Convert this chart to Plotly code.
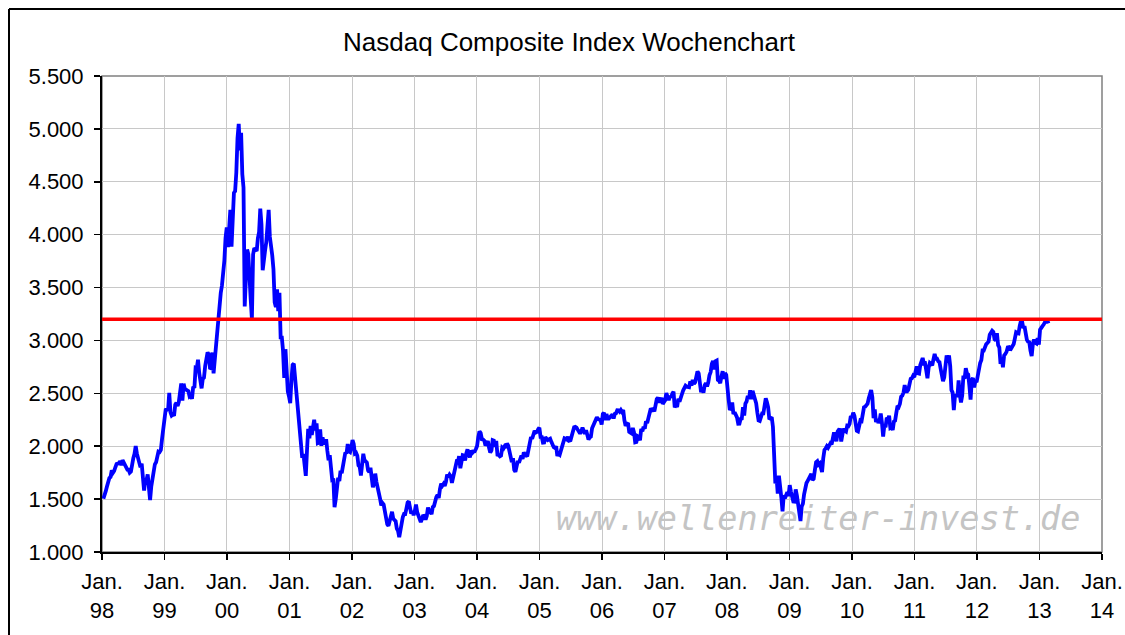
import pandas as pd
import plotly.graph_objects as go

# Weekly closes of the Nasdaq Composite, one list per calendar year
v1998 = [1503, 1560, 1575, 1619, 1680, 1700, 1710, 1771, 1749, 1766, 1801, 1832, 1835, 1840, 1859, 1820,
         1869, 1844, 1838, 1810, 1779, 1780, 1750, 1761, 1860, 1886, 1928, 2001, 1930, 1873, 1838, 1800,
         1835, 1639, 1580, 1690, 1680, 1733, 1614, 1492, 1620, 1690, 1771, 1829, 1848, 1911, 1950, 1946,
         1965, 2070, 2160, 2193]
v1999 = [2344, 2348, 2338, 2505, 2320, 2290, 2300, 2288, 2392, 2410, 2380, 2420, 2493, 2593, 2430, 2590,
         2542, 2535, 2528, 2520, 2470, 2478, 2447, 2563, 2552, 2741, 2736, 2818, 2694, 2638, 2547, 2637,
         2648, 2758, 2843, 2887, 2869, 2740, 2736, 2886, 2689, 2816, 2966, 3102, 3221, 3369, 3448, 3520,
         3621, 3753, 3970, 4069]
v2000 = [3882, 4064, 4235, 3887, 4244, 4395, 4411, 4590, 4914, 5048, 4798, 4963, 4573, 4446, 3321, 3643,
         3860, 3817, 3529, 3390, 3205, 3813, 3874, 3860, 3845, 3966, 4024, 4246, 4095, 3663, 3787, 3849,
         3930, 4042, 4234, 3979, 3835, 3803, 3673, 3362, 3316, 3483, 3278, 3451, 3028, 3027, 2904, 2645,
         2917, 2653, 2517, 2470]
v2001 = [2407, 2626, 2770, 2781, 2660, 2470, 2425, 2262, 2117, 2052, 1891, 1928, 1840, 1720, 1961, 2163,
         2075, 2191, 2107, 2199, 2251, 2150, 2215, 2029, 2034, 2160, 2004, 2084, 2029, 2029, 2066, 1956,
         1867, 1916, 1805, 1687, 1695, 1423, 1499, 1605, 1703, 1671, 1768, 1746, 1828, 1898, 1941, 1930,
         2021, 1953, 1945, 1987]
v2002 = [2059, 2022, 1930, 1937, 1911, 1818, 1805, 1724, 1802, 1929, 1868, 1851, 1845, 1770, 1756, 1796,
         1663, 1613, 1652, 1741, 1661, 1616, 1535, 1504, 1440, 1463, 1448, 1374, 1320, 1262, 1247, 1306,
         1361, 1380, 1315, 1295, 1291, 1221, 1199, 1140, 1210, 1287, 1331, 1360, 1359, 1411, 1468, 1478,
         1422, 1362, 1387, 1348]
v2003 = [1387, 1448, 1376, 1342, 1321, 1283, 1310, 1349, 1337, 1305, 1340, 1421, 1369, 1383, 1358, 1425,
         1434, 1502, 1520, 1539, 1510, 1595, 1646, 1627, 1644, 1625, 1663, 1733, 1708, 1731, 1715, 1653,
         1702, 1765, 1810, 1858, 1855, 1905, 1792, 1880, 1915, 1912, 1865, 1932, 1970, 1930, 1893, 1960,
         1937, 1949, 1951, 1974, 2003]
v2004 = [2087, 2140, 2124, 2066, 2064, 2053, 2007, 2029, 2048, 1985, 1940, 1960, 2057, 2053, 1995, 2049,
         1920, 1917, 1905, 1912, 1987, 1978, 1999, 1987, 2025, 2006, 1946, 1883, 1849, 1887, 1777, 1757,
         1838, 1862, 1844, 1894, 1910, 1879, 1942, 1919, 1911, 1915, 1975, 2038, 2085, 2070, 2101, 2147,
         2129, 2135, 2160, 2175]
v2005 = [2088, 2087, 2034, 2035, 2086, 2076, 2058, 2065, 2071, 2041, 2008, 1991, 1984, 1999, 1908, 1932,
         1921, 1967, 1976, 2047, 2075, 2071, 2063, 2090, 2053, 2057, 2112, 2156, 2180, 2184, 2177, 2157,
         2135, 2120, 2141, 2175, 2146, 2116, 2152, 2090, 2064, 2082, 2090, 2170, 2200, 2228, 2263, 2273,
         2256, 2252, 2249, 2205]
v2006 = [2305, 2317, 2247, 2304, 2262, 2261, 2282, 2287, 2302, 2262, 2307, 2312, 2340, 2339, 2326, 2342,
         2323, 2343, 2243, 2194, 2210, 2219, 2135, 2130, 2121, 2172, 2130, 2037, 2040, 2094, 2086, 2057,
         2163, 2141, 2184, 2165, 2235, 2218, 2258, 2299, 2357, 2342, 2350, 2330, 2390, 2445, 2460, 2413,
         2437, 2457, 2401, 2415]
v2007 = [2434, 2502, 2451, 2436, 2475, 2460, 2497, 2515, 2368, 2387, 2372, 2448, 2421, 2471, 2491, 2526,
         2557, 2572, 2562, 2558, 2557, 2613, 2573, 2626, 2589, 2603, 2666, 2707, 2688, 2562, 2511, 2544,
         2505, 2576, 2596, 2566, 2602, 2671, 2701, 2780, 2806, 2726, 2804, 2810, 2627, 2619, 2596, 2661,
         2709, 2636, 2691, 2674]
v2008 = [2504, 2440, 2341, 2361, 2413, 2304, 2322, 2303, 2272, 2212, 2213, 2258, 2261, 2370, 2290, 2403,
         2423, 2477, 2446, 2528, 2444, 2523, 2475, 2454, 2406, 2316, 2245, 2240, 2283, 2310, 2310, 2414,
         2452, 2415, 2368, 2255, 2261, 2273, 2183, 1947, 1649, 1711, 1552, 1721, 1647, 1516, 1384, 1536,
         1509, 1540, 1564, 1530]
v2009 = [1632, 1571, 1530, 1477, 1476, 1591, 1534, 1441, 1378, 1293, 1431, 1457, 1545, 1621, 1652, 1673,
         1694, 1719, 1739, 1680, 1692, 1774, 1849, 1858, 1827, 1838, 1797, 1756, 1886, 1965, 1979, 2000,
         1985, 2020, 2028, 2018, 2080, 2132, 2090, 2048, 2139, 2156, 2154, 2045, 2112, 2167, 2146, 2138,
         2194, 2190, 2212, 2285, 2269]
v2010 = [2317, 2288, 2205, 2147, 2141, 2183, 2243, 2238, 2326, 2368, 2374, 2395, 2402, 2454, 2481, 2530,
         2461, 2265, 2347, 2229, 2257, 2219, 2243, 2309, 2223, 2091, 2196, 2179, 2269, 2255, 2288, 2173,
         2179, 2153, 2234, 2242, 2315, 2381, 2371, 2401, 2468, 2479, 2507, 2578, 2518, 2518, 2535, 2592,
         2637, 2642, 2665, 2653]
v2011 = [2703, 2755, 2689, 2686, 2769, 2809, 2834, 2781, 2784, 2716, 2643, 2743, 2789, 2780, 2764, 2820,
         2873, 2827, 2828, 2803, 2796, 2732, 2644, 2616, 2652, 2816, 2859, 2789, 2859, 2756, 2532, 2507,
         2341, 2479, 2480, 2467, 2622, 2483, 2415, 2479, 2667, 2637, 2737, 2686, 2678, 2572, 2441, 2626,
         2646, 2555, 2618, 2605]
v2012 = [2674, 2711, 2787, 2816, 2905, 2904, 2951, 2963, 2976, 2988, 3055, 3068, 3091, 3080, 3011, 3000,
         3069, 2956, 2933, 2778, 2837, 2747, 2858, 2872, 2892, 2935, 2937, 2908, 2925, 2958, 2967, 3020,
         3076, 3069, 3066, 3136, 3183, 3179, 3116, 3136, 3044, 3005, 2987, 2982, 2904, 2853, 2967, 3010,
         2978, 2971, 3021, 2960]
v2013 = [3101, 3125, 3135, 3150, 3179, 3193, 3192, 3161]

year_values = [v1998, v1999, v2000, v2001, v2002, v2003, v2004, v2005,
               v2006, v2007, v2008, v2009, v2010, v2011, v2012, v2013]
first_week = ["1998-01-09", "1999-01-08", "2000-01-07", "2001-01-05", "2002-01-04", "2003-01-03",
              "2004-01-09", "2005-01-07", "2006-01-06", "2007-01-05", "2008-01-04", "2009-01-02",
              "2010-01-08", "2011-01-07", "2012-01-06", "2013-01-04"]

resistance = 3200
y_ticks = [1000, 1500, 2000, 2500, 3000, 3500, 4000, 4500, 5000, 5500]
x_tick_dates = [f"{y}-01-01" for y in range(1998, 2015)]
x_tick_text = [f"Jan.<br>{str(y)[2:]}" for y in range(1998, 2015)]
title_text = "Nasdaq Composite Index Wochenchart"
watermark = "www.wellenreiter-invest.de"

dates, values = [], []
for start, vals in zip(first_week, year_values):
    dates.extend(pd.date_range(start, periods=len(vals), freq="7D"))
    values.extend(vals)

FONT = "Arial, Liberation Sans, sans-serif"

W, H = 1125, 635
ML, MR, MT, MB = 102, 23, 76, 83
PW, PH = W - ML - MR, H - MT - MB

fig = go.Figure()
fig.add_trace(go.Scatter(x=dates, y=values, mode="lines",
                         line=dict(color="#0000FF", width=3.8), hoverinfo="skip", showlegend=False))
fig.add_hline(y=resistance, line=dict(color="#FF0000", width=3.5), layer="above")

# plot-area border (gray, top/right)
fig.add_shape(type="rect", xref="paper", yref="paper", x0=0, x1=1, y0=0, y1=1,
              line=dict(color="#808080", width=1.5), layer="below")
# outer chart frame (left and top edges visible)
fx = (9 - ML) / PW
fy = (PH + MT - 9) / PH
fig.add_shape(type="line", xref="paper", yref="paper", x0=fx, x1=fx, y0=-0.3, y1=fy,
              line=dict(color="#000000", width=2))
fig.add_shape(type="line", xref="paper", yref="paper", x0=fx, x1=1.1, y0=fy, y1=fy,
              line=dict(color="#000000", width=2))

fig.add_annotation(text=watermark, xref="paper", yref="paper", x=0.98, y=0.07,
                   xanchor="right", yanchor="middle", showarrow=False,
                   font=dict(family="DejaVu Sans Mono", size=33.5, color="#c4c4c4", style="italic"))

fig.update_layout(
    width=W, height=H,
    margin=dict(l=ML, r=MR, t=MT, b=MB, autoexpand=False),
    paper_bgcolor="white", plot_bgcolor="white",
    separators=",.",
    hovermode=False,
    title=dict(text=title_text, x=569 / W, xref="container", y=1 - 42 / H, yref="container",
               xanchor="center", yanchor="middle", font=dict(family=FONT, size=26, color="black")),
    font=dict(family=FONT, color="black"),
    xaxis=dict(type="date", range=["1998-01-01", "2014-01-01"], automargin=False,
               tickmode="array", tickvals=x_tick_dates, ticktext=x_tick_text,
               tickfont=dict(size=22, family=FONT, color="black"),
               ticks="outside", ticklen=6, tickwidth=1.5, tickcolor="black",
               showgrid=True, gridcolor="#c8c8c8", gridwidth=1,
               showline=True, linecolor="black", linewidth=2, zeroline=False,
               ticklabelstandoff=3),
    yaxis=dict(range=[1000, 5500], tickmode="array", tickvals=y_ticks, tickformat=",d",
               automargin=False,
               tickfont=dict(size=22, family=FONT, color="black"),
               ticks="outside", ticklen=6, tickwidth=1.5, tickcolor="black",
               showgrid=True, gridcolor="#c8c8c8", gridwidth=1,
               showline=True, linecolor="black", linewidth=2, zeroline=False,
               ticklabelstandoff=6),
)

# remove the browser's default 8 px page margin so the figure fills the 1125x635 window
fig.write_html("out.html", config={"displayModeBar": False, "staticPlot": True},
               post_script="document.body.style.margin='0';document.body.style.overflow='hidden';")
